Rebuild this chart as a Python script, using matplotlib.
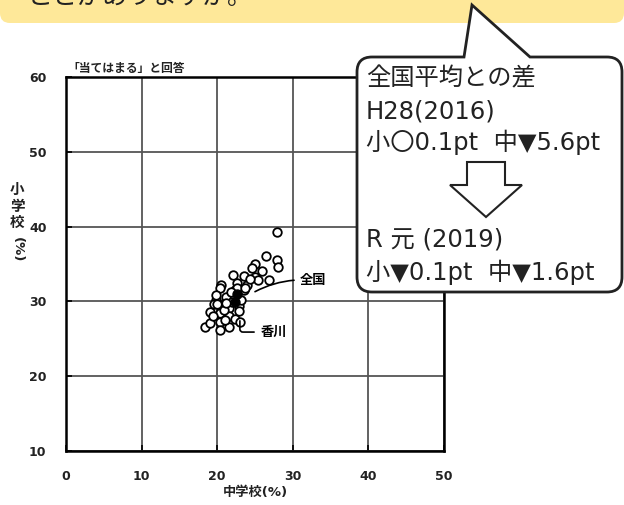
import numpy as np
import matplotlib
matplotlib.use('Agg')
import matplotlib.pyplot as plt
from matplotlib.path import Path
from matplotlib.patches import PathPatch, FancyBboxPatch, Polygon

plt.rcParams['font.family'] = ['DejaVu Sans', 'Noto Sans CJK JP']

# prefecture values: x = junior high (%), y = elementary (%)
chu = [27.9, 26.5, 27.9, 25.0, 28.1, 25.9, 24.6, 25.0, 22.1, 23.5, 26.8, 25.4,
       20.5, 22.6, 23.9, 23.5, 22.4, 20.4, 22.6, 23.7, 19.9, 20.4, 21.5, 19.0,
       20.4, 21.5, 22.4, 18.4, 19.0, 20.4, 20.4, 21.5, 21.2, 20.9, 19.6, 22.9,
       23.1, 21.0, 24.3, 19.8, 22.9, 21.9, 20.0, 21.8, 23.0, 19.4, 21.1]
sho = [39.3, 36.1, 35.5, 35.0, 34.6, 34.0, 34.4, 33.3, 33.5, 33.4, 32.9, 32.9,
       32.2, 32.4, 32.2, 31.5, 31.5, 31.8, 31.8, 31.8, 30.2, 29.5, 29.1, 28.6,
       28.4, 28.0, 27.7, 26.6, 27.1, 27.3, 26.2, 26.6, 30.6, 28.9, 29.7, 29.4,
       30.2, 27.5, 33.0, 30.8, 28.7, 29.9, 29.6, 31.2, 27.2, 28.0, 29.8]
# filled markers (national / Kagawa)
dark_x = [22.6, 22.4]
dark_y = [31.0, 29.9]

xticks = [0, 10, 20, 30, 40, 50]
yticks = [10, 20, 30, 40, 50, 60]

fig = plt.figure(figsize=(6.24, 5.05), dpi=100)
ax = fig.add_axes([66/624, 1-451/505, 378/624, 374/505])
ax.set_xlim(0, 50)
ax.set_ylim(10, 60)
ax.set_xticks(xticks)
ax.set_yticks(yticks)
ax.grid(True, color='#555555', lw=1.3)
ax.set_axisbelow(True)
for s in ax.spines.values():
    s.set_linewidth(1.8)
    s.set_color('black')
ax.tick_params(direction='in', length=4, width=1.2, labelsize=9, pad=14)
for lab in ax.get_xticklabels() + ax.get_yticklabels():
    lab.set_fontweight('bold')
    lab.set_color('#222222')

ax.scatter(chu, sho, s=38, facecolors='white', edgecolors='black', linewidths=1.3, zorder=3)
ax.scatter(dark_x, dark_y, s=42, c='black', zorder=4)

ax.annotate('全国', xy=(25.0, 31.3), xytext=(30.9, 32.8), fontsize=9.5, fontweight='bold',
            va='center', ha='left',
            arrowprops=dict(arrowstyle='-', color='black', lw=1.2,
                            connectionstyle='arc3,rad=0.15', shrinkA=2, shrinkB=0))
ax.annotate('香川', xy=(23.0, 27.4), xytext=(25.8, 25.9), fontsize=9.5, fontweight='bold',
            va='center', ha='left',
            arrowprops=dict(arrowstyle='-', color='black', lw=1.2,
                            connectionstyle='angle,angleA=0,angleB=90,rad=3', shrinkA=3, shrinkB=0))

ax.text(0.005, 1.005, '「当てはまる」と回答', transform=ax.transAxes, fontsize=8.5,
        fontweight='bold', ha='left', va='bottom', color='#222222')
ax.set_xlabel('中学校(%)', fontsize=9.5, fontweight='bold', labelpad=2, color='#222222')

# overlay in pixel coordinates for the decorations
ov = fig.add_axes([0, 0, 1, 1], zorder=10)
ov.set_xlim(0, 624)
ov.set_ylim(505, 0)
ov.axis('off')
ov.patch.set_alpha(0)

ov.text(17, 206, '小\n学\n校', fontsize=10.5, fontweight='bold', ha='center', va='center',
        linespacing=1.1, color='#222222')
ov.text(17, 250, '(%)', fontsize=9.5, fontweight='bold', ha='center', va='center',
        rotation=-90, color='#222222')

# yellow banner
ov.add_patch(FancyBboxPatch((0, -30), 624, 53, boxstyle='round,pad=0,rounding_size=10',
                            fc='#FEE899', ec='none'))
ov.text(28, -3, 'ことがありますか。', fontsize=18, ha='left', va='center', color='#222222')

# callout box
L, R, T, B, r = 357, 622, 57, 292, 15
verts = [(464, T), (472, 5), (530, T), (R - r, T), (R, T), (R, T + r), (R, B - r), (R, B),
         (R - r, B), (L + r, B), (L, B), (L, B - r), (L, T + r), (L, T), (L + r, T), (464, T)]
codes = [Path.MOVETO, Path.LINETO, Path.LINETO, Path.LINETO, Path.CURVE3, Path.CURVE3,
         Path.LINETO, Path.CURVE3, Path.CURVE3, Path.LINETO, Path.CURVE3, Path.CURVE3,
         Path.LINETO, Path.CURVE3, Path.CURVE3, Path.CLOSEPOLY]
ov.add_patch(PathPatch(Path(verts, codes), fc='white', ec='#222222', lw=2))

fs = 17.5
ov.text(366, 78, '全国平均との差', fontsize=fs, va='center', ha='left', color='#222222')
ov.text(366, 111, 'H28(2016)', fontsize=fs, va='center', ha='left', color='#222222')
ov.text(366, 142, '小〇0.1pt  中▼5.6pt', fontsize=fs, va='center', ha='left', color='#222222')
ov.text(366, 240, 'R 元 (2019)', fontsize=fs, va='center', ha='left', color='#222222')
ov.text(366, 272, '小▼0.1pt  中▼1.6pt', fontsize=fs, va='center', ha='left', color='#222222')

arrow = [(467, 162), (505, 162), (505, 185), (522, 185), (486, 217), (450, 185), (467, 185)]
ov.add_patch(Polygon(arrow, closed=True, fc='white', ec='#222222', lw=1.5))

fig.savefig('out.png', dpi=100)
